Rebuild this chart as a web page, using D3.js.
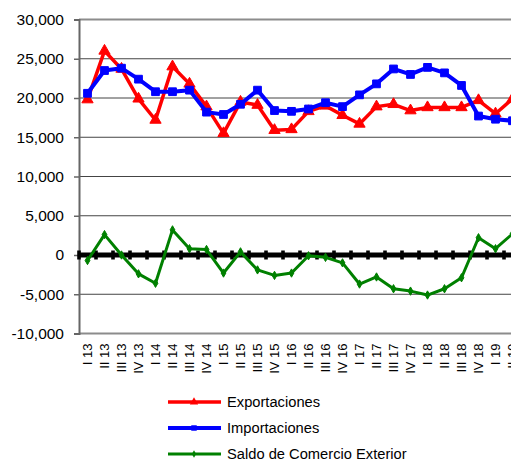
<!DOCTYPE html>
<html>
<head>
<meta charset="utf-8">
<script src="https://cdn.jsdelivr.net/npm/d3@7"></script>
<style>
  html, body { margin: 0; padding: 0; background: #fff; overflow: hidden; }
  svg { display: block; font-family: "Liberation Sans", Arial, sans-serif; }
</style>
</head>
<body>
<svg id="chart" width="511" height="462"></svg>
<script>
// Quarterly trade balance, 2013-2019 (values in millions)
const quarters = ["I 13","II 13","III 13","IV 13","I 14","II 14","III 14","IV 14",
  "I 15","II 15","III 15","IV 15","I 16","II 16","III 16","IV 16",
  "I 17","II 17","III 17","IV 17","I 18","II 18","III 18","IV 18","I 19","II 19"];

const exportaciones = [19800, 26000, 23700, 19900, 17200, 24000, 21800, 18900,
  15500, 19500, 19100, 15900, 16000, 18300, 19000, 17800,
  16700, 18900, 19200, 18400, 18800, 18800, 18800, 19700, 18000, 19900];

const importaciones = [20600, 23500, 23800, 22400, 20800, 20800, 21000, 18200,
  17900, 19200, 21000, 18400, 18300, 18600, 19400, 18900,
  20400, 21800, 23700, 23000, 23900, 23200, 21600, 17700, 17300, 17100];

const saldo = [-700, 2600, 0, -2400, -3600, 3200, 800, 700,
  -2300, 400, -1900, -2600, -2300, -100, -300, -1000,
  -3700, -2800, -4300, -4600, -5100, -4300, -2900, 2200, 800, 2700];

const yTicks = [-10000, -5000, 0, 5000, 10000, 15000, 20000, 25000, 30000];

const seriesNames = ["Exportaciones", "Importaciones", "Saldo de Comercio Exterior"];

const svg = d3.select("#chart");

const plot = { left: 79, right: 521, top: 19.5, bottom: 333.5 };

const x = d3.scaleBand().domain(quarters).range([plot.left, plot.right]).padding(0);
const cx = q => x(q) + x.bandwidth() / 2;
const y = d3.scaleLinear().domain([-10000, 30000]).range([plot.bottom, plot.top]);

// thousands separator with a plain hyphen for negatives
const fmt = d => d3.format(",")(d).replace("\u2212", "-");

// horizontal gridlines
svg.append("g").selectAll("line")
  .data(yTicks)
  .join("line")
  .attr("x1", plot.left).attr("x2", plot.right)
  .attr("y1", d => y(d)).attr("y2", d => y(d))
  .attr("stroke", d => (d === 30000 || d === -10000) ? "#8c8c8c" : "#444")
  .attr("stroke-width", d => (d === 30000 || d === -10000) ? 2 : 1);

// value axis
const yAxis = svg.append("g")
  .attr("transform", `translate(${plot.left},0)`)
  .call(d3.axisLeft(y).tickValues(yTicks).tickSize(5).tickPadding(10)
    .tickFormat(fmt));
yAxis.select(".domain").attr("stroke", "#666").attr("stroke-width", 2);
yAxis.selectAll(".tick line").attr("stroke", "#666").attr("stroke-width", 1.5);
yAxis.selectAll(".tick text")
  .attr("font-size", "15.5px")
  .attr("fill", "#000")
  .attr("font-family", "Liberation Sans, Arial, sans-serif");

// category axis crossing at zero: heavy line with crossing tick marks
const y0 = y(0);
svg.append("line")
  .attr("x1", plot.left).attr("x2", plot.right)
  .attr("y1", y0).attr("y2", y0)
  .attr("stroke", "#000").attr("stroke-width", 5);
const boundaries = quarters.map(q => x(q)).concat([plot.right]);
svg.append("g").selectAll("rect")
  .data(boundaries)
  .join("rect")
  .attr("x", d => d - 1.8).attr("y", y0 - 4.5)
  .attr("width", 3.6).attr("height", 9)
  .attr("fill", "#000");

// category labels, rotated, placed below the plot
svg.append("g").selectAll("text")
  .data(quarters)
  .join("text")
  .attr("transform", q => `translate(${cx(q)},${plot.bottom + 10}) rotate(-90)`)
  .attr("text-anchor", "end")
  .attr("dy", "0.35em")
  .attr("font-size", "13px")
  .attr("fill", "#000")
  .text(q => q);

// series
const series = [
  { name: seriesNames[0], values: exportaciones, color: "#ff0000", width: 3.5, marker: "triangle" },
  { name: seriesNames[1], values: importaciones, color: "#0000ff", width: 4, marker: "square" },
  { name: seriesNames[2], values: saldo, color: "#008000", width: 3, marker: "diamond" }
];

const markerPath = {
  triangle: d3.symbol().type(d3.symbolTriangle).size(55),
  square: d3.symbol().type(d3.symbolSquare).size(60),
  diamond: d3.symbol().type(d3.symbolDiamond).size(20)
};

const line = d3.line().x(d => cx(d.q)).y(d => y(d.v));

series.forEach(s => {
  const pts = quarters.map((q, i) => ({ q, v: s.values[i] }));
  const g = svg.append("g");
  g.append("path")
    .datum(pts)
    .attr("d", line)
    .attr("fill", "none")
    .attr("stroke", s.color)
    .attr("stroke-width", s.width)
    .attr("stroke-linejoin", "round");
  g.selectAll("path.m")
    .data(pts)
    .join("path")
    .attr("class", "m")
    .attr("d", markerPath[s.marker])
    .attr("transform", d => `translate(${cx(d.q)},${y(d.v)})`)
    .attr("fill", s.color)
    .attr("stroke", s.color)
    .attr("stroke-width", 1);
});

// legend
const legend = svg.append("g");
const legendRows = [402, 428, 454];
series.forEach((s, i) => {
  const ly = legendRows[i];
  legend.append("line")
    .attr("x1", 168).attr("x2", 221)
    .attr("y1", ly).attr("y2", ly)
    .attr("stroke", s.color).attr("stroke-width", s.width);
  legend.append("path")
    .attr("d", d3.symbol().type(
      s.marker === "triangle" ? d3.symbolTriangle :
      s.marker === "square" ? d3.symbolSquare : d3.symbolDiamond).size(s.marker === "diamond" ? 16 : 30))
    .attr("transform", `translate(194,${ly})`)
    .attr("fill", s.color);
  legend.append("text")
    .attr("x", 227).attr("y", ly)
    .attr("dy", "0.35em")
    .attr("font-size", "14.7px")
    .attr("fill", "#000")
    .text(s.name);
});
</script>
</body>
</html>
